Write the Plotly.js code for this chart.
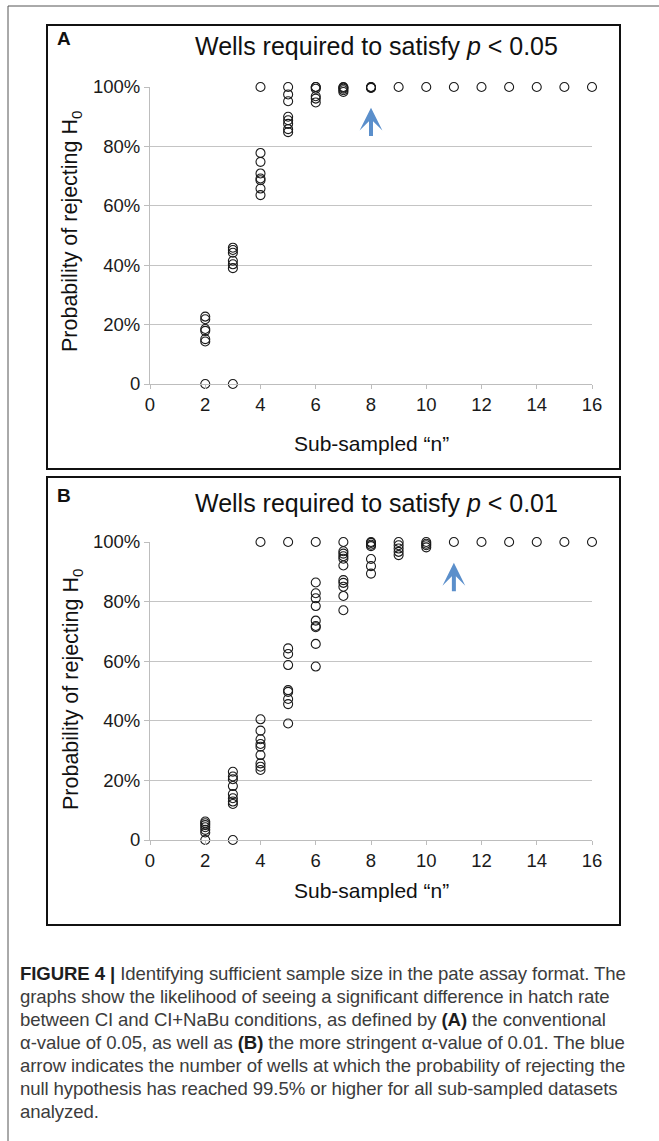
<!DOCTYPE html>
<html>
<head>
<meta charset="utf-8">
<script src="https://cdn.plot.ly/plotly-3.0.1.min.js"></script>
<style>
  html, body { margin: 0; padding: 0; background: #fff; }
  #wrap { position: relative; width: 659px; height: 1141px; overflow: hidden; }
  #chart { position: absolute; left: 0; top: 0; width: 659px; height: 1141px; }
  #caption { position: absolute; left: 20px; top: 962px; width: 635px;
    font-family: "Liberation Sans", Arial, sans-serif; font-size: 18.6px; line-height: 23px;
    color: #3c3c3c; white-space: nowrap; letter-spacing: -0.1px; }
  #caption b { color: #1e1e1e; }
</style>
</head>
<body>
<div id="wrap">
  <div id="chart"></div>
  <div id="caption">
    <b>FIGURE 4 |</b> Identifying sufficient sample size in the pate assay format. The<br>
    graphs show the likelihood of seeing a significant difference in hatch rate<br>
    between CI and CI+NaBu conditions, as defined by <b>(A)</b> the conventional<br>
    α-value of 0.05, as well as <b>(B)</b> the more stringent α-value of 0.01. The blue<br>
    arrow indicates the number of wells at which the probability of rejecting the<br>
    null hypothesis has reached 99.5% or higher for all sub-sampled datasets<br>
    analyzed.
  </div>
</div>
<script>
// ---- Data: sub-sampled n and probability of rejecting H0 ----
const nValues = [2, 3, 4, 5, 6, 7, 8, 9, 10, 11, 12, 13, 14, 15, 16];

// Panel A (p < 0.05)
const a2 = [0.227, 0.218, 0.185, 0.179, 0.151, 0.143, 0];
const a3 = [0.459, 0.451, 0.442, 0.415, 0.403, 0.390, 0];
const a4 = [1.0, 0.778, 0.748, 0.709, 0.692, 0.686, 0.658, 0.636];
const a5 = [1.0, 0.975, 0.952, 0.900, 0.888, 0.876, 0.858, 0.848];
const a6 = [1.0, 1.0, 0.994, 0.969, 0.961, 0.948];
const a7 = [1.0, 0.998, 0.994, 0.989, 0.983];
const a8 = [1.0, 0.999, 0.998, 0.997];
const a9 = [1.0];
const a10 = [1.0];
const a11 = [1.0];
const a12 = [1.0];
const a13 = [1.0];
const a14 = [1.0];
const a15 = [1.0];
const a16 = [1.0];

// Panel B (p < 0.01)
const b2 = [0.062, 0.056, 0.050, 0.043, 0.034, 0.025, 0];
const b3 = [0.229, 0.213, 0.204, 0.181, 0.154, 0.140, 0.129, 0.121, 0];
const b4 = [1.0, 0.405, 0.367, 0.338, 0.322, 0.313, 0.285, 0.257, 0.246, 0.235];
const b5 = [1.0, 0.643, 0.624, 0.587, 0.503, 0.497, 0.473, 0.456, 0.391];
const b6 = [1.0, 0.864, 0.828, 0.811, 0.785, 0.736, 0.718, 0.714, 0.658, 0.582];
const b7 = [1.0, 0.969, 0.961, 0.952, 0.944, 0.921, 0.872, 0.863, 0.850, 0.819, 0.771];
const b8 = [1.0, 0.997, 0.991, 0.986, 0.943, 0.919, 0.894];
const b9 = [1.0, 0.989, 0.978, 0.967, 0.956];
const b10 = [1.0, 0.994, 0.989, 0.982];
const b11 = [1.0];
const b12 = [1.0];
const b13 = [1.0];
const b14 = [1.0];
const b15 = [1.0];
const b16 = [1.0];

// Arrow positions (n where probability >= 99.5% for all datasets)
const arrowA = { n: 8, tip: 0.93, tail: 0.83 };
const arrowB = { n: 11, tip: 0.93, tail: 0.83 };

// Tick labels
const xTicks = [0, 2, 4, 6, 8, 10, 12, 14, 16];
const yTickVals = [0, 0.2, 0.4, 0.6, 0.8, 1.0];
const yTickText = ['0', '20%', '40%', '60%', '80%', '100%'];

const titleA = 'Wells required to satisfy <i>p</i> < 0.05';
const titleB = 'Wells required to satisfy <i>p</i> < 0.01';
const xTitle = 'Sub-sampled \u201cn\u201d';
const yTitle = 'Probability of rejecting H<sub>0</sub>';

// ---- Build ----
const colsA = [a2, a3, a4, a5, a6, a7, a8, a9, a10, a11, a12, a13, a14, a15, a16];
const colsB = [b2, b3, b4, b5, b6, b7, b8, b9, b10, b11, b12, b13, b14, b15, b16];
function flatten(cols) {
  const x = [], y = [];
  cols.forEach((vals, i) => vals.forEach(v => { x.push(nValues[i]); y.push(v); }));
  return { x, y };
}
const dA = flatten(colsA), dB = flatten(colsB);

const W = 659, H = 1141;
const px = v => v / W;
const py = v => 1 - v / H;
const FONT = '"Liberation Sans", Arial, sans-serif';

const marker = { symbol: 'circle-open', size: 9, color: '#1a1a1a', line: { width: 1.1, color: '#1a1a1a' } };
const traces = [
  { x: dA.x, y: dA.y, type: 'scatter', mode: 'markers', marker, xaxis: 'x', yaxis: 'y', cliponaxis: false, hoverinfo: 'x+y' },
  { x: dB.x, y: dB.y, type: 'scatter', mode: 'markers', marker, xaxis: 'x2', yaxis: 'y2', cliponaxis: false, hoverinfo: 'x+y' }
];

const xDomain = [px(150), px(592)];
function xAxis(anchor) {
  return {
    domain: xDomain, range: [0, 16], anchor,
    tickvals: xTicks, ticks: 'outside', ticklen: 4, tickcolor: '#bdbdbd',
    showline: true, linecolor: '#bdbdbd', linewidth: 1,
    showgrid: false, zeroline: false,
    tickfont: { family: FONT, size: 18.5, color: '#1a1a1a' }, fixedrange: true
  };
}
function yAxis(anchor, bottomPx, topPx) {
  return {
    domain: [py(bottomPx), py(topPx)], range: [0, 1], anchor,
    tickvals: yTickVals, ticktext: yTickText, ticks: 'outside', ticklen: 5, tickcolor: '#bdbdbd',
    showline: true, linecolor: '#bdbdbd', linewidth: 1,
    showgrid: true, gridcolor: '#c4c4c4', gridwidth: 1, zeroline: false,
    tickfont: { family: FONT, size: 18.5, color: '#1a1a1a' }, fixedrange: true
  };
}

function arrowAnn(arr, xr, yr) {
  return { x: arr.n, y: arr.tip, ax: arr.n, ay: arr.tail, xref: xr, yref: yr, axref: xr, ayref: yr,
    text: '', showarrow: true, arrowhead: 3, arrowsize: 0.95, arrowwidth: 4, arrowcolor: '#5b8fcb', standoff: 0 };
}
function textAnn(text, xPx, yPx, size, extra) {
  return Object.assign({ text, x: px(xPx), y: py(yPx), xref: 'paper', yref: 'paper', showarrow: false,
    xanchor: 'center', yanchor: 'middle', font: { family: FONT, size, color: '#111' } }, extra || {});
}

const annotations = [
  textAnn(titleA, 376, 46, 25),
  textAnn(titleB, 376, 503, 25),
  textAnn('<b>A</b>', 55, 39, 19, { xanchor: 'left' }),
  textAnn('<b>B</b>', 55, 495, 19, { xanchor: 'left' }),
  textAnn(xTitle, 371, 443, 21),
  textAnn(xTitle, 371, 890, 21),
  textAnn(yTitle, 72, 232, 21.5, { textangle: -90 }),
  textAnn(yTitle, 72, 690, 21.5, { textangle: -90 }),
  arrowAnn(arrowA, 'x', 'y'),
  arrowAnn(arrowB, 'x2', 'y2')
];

function rectPx(x0, y0, x1, y1, color, width) {
  return { type: 'rect', xref: 'paper', yref: 'paper', x0: px(x0), x1: px(x1), y0: py(y1), y1: py(y0),
    line: { color, width }, fillcolor: 'rgba(0,0,0,0)', layer: 'above' };
}
function linePx(x0, y0, x1, y1, color, width) {
  return { type: 'line', xref: 'paper', yref: 'paper', x0: px(x0), x1: px(x1), y0: py(y0), y1: py(y1),
    line: { color, width } };
}
const shapes = [
  rectPx(47, 25, 620, 469, '#111', 2),
  rectPx(47, 477, 620, 925, '#111', 2),
  linePx(8, 6, 659, 6, '#555', 1),
  linePx(8, 6, 8, 1141, '#555', 1)
];

const layout = {
  width: W, height: H, margin: { l: 0, r: 0, t: 0, b: 0 },
  paper_bgcolor: '#fff', plot_bgcolor: '#fff', showlegend: false,
  font: { family: FONT },
  xaxis: xAxis('y'), yaxis: yAxis('x', 384, 87),
  xaxis2: xAxis('y2'), yaxis2: yAxis('x2', 840, 542),
  annotations, shapes
};

Plotly.newPlot('chart', traces, layout, { displayModeBar: false, staticPlot: true });
</script>
</body>
</html>
